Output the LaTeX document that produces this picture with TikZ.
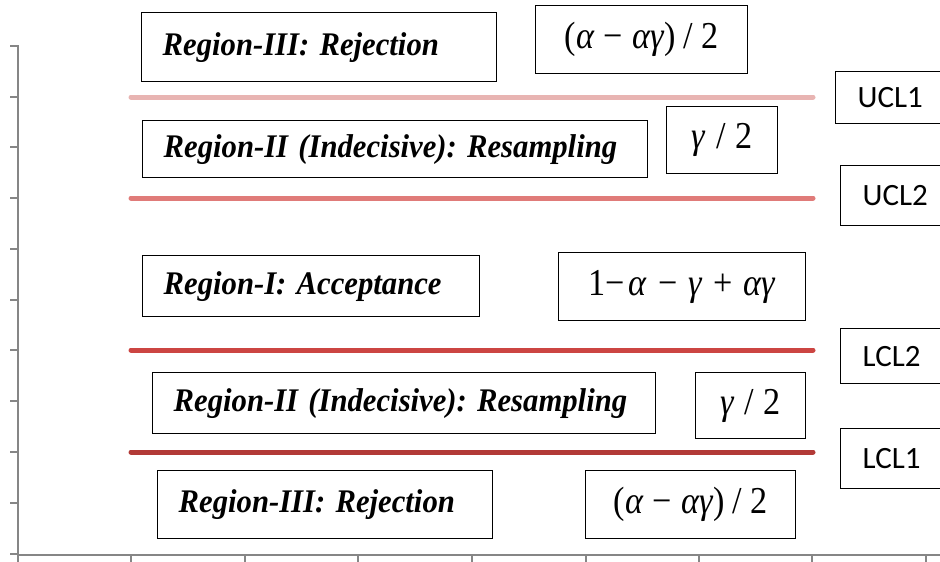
\documentclass[tikz,border=0pt]{standalone}
\usepackage{fontspec}
\usepackage{graphicx}
\setmainfont{Liberation Serif}
\newfontfamily\calib{Carlito}
\definecolor{axisgray}{HTML}{868686}
\definecolor{cucla}{HTML}{E8B4B2}
\definecolor{cuclb}{HTML}{E07B79}
\definecolor{clclb}{HTML}{CC4542}
\definecolor{clcla}{HTML}{B23A37}
\frenchspacing
\newcommand{\rtxt}[1]{\scalebox{0.93}[1]{#1}}
\newcommand{\mtxt}[1]{\scalebox{0.9}[1]{#1}}
\begin{document}
\begin{tikzpicture}[x=1pt,y=-1pt,
  axisline/.style={draw=axisgray,line width=2pt},
  limitline/.style={line width=5pt,line cap=round},
  box/.style={draw=black,line width=1.4pt,rectangle,anchor=north west,inner sep=0pt},
  regionbox/.style={box,align=left,font=\fontsize{33}{36}\selectfont\bfseries\itshape},
  mathbox/.style={box,font=\fontsize{38}{42}\selectfont},
  limbox/.style={box,align=left,inner xsep=22pt,font=\fontsize{31}{34}\selectfont\calib}
]
\useasboundingbox (0,0) rectangle (940,562);
\fill[white] (0,0) rectangle (940,562);

% axes
\draw[axisline] (18,45) -- (18,555) -- (940,555);
\foreach \yy in {46,97,147,198,249,300,350,401,452,503,554}
  \draw[axisline] (10,\yy) -- (18,\yy);
\foreach \xx in {18,131,245,358,472,586,699,812,926}
  \draw[axisline] (\xx,555) -- (\xx,562);

% limit lines
\draw[limitline,cucla] (131,97) -- (813,97);
\draw[limitline,cuclb] (131,198) -- (813,198);
\draw[limitline,clclb] (131,350) -- (813,350);
\draw[limitline,clcla] (131,452) -- (813,452);

% region boxes
\node[regionbox,minimum width=355pt,minimum height=69pt,text width=313pt] (r3top) at (141,12) {\rtxt{Region-III: Rejection}};
\node[regionbox,minimum width=505pt,minimum height=57pt,text width=463pt] (r2top) at (142,120) {\rtxt{Region-II (Indecisive): Resampling}};
\node[regionbox,minimum width=337pt,minimum height=61pt,text width=295pt] (r1) at (142,255) {\rtxt{Region-I: Acceptance}};
\node[regionbox,minimum width=503pt,minimum height=61pt,text width=461pt] (r2bot) at (152,372) {\rtxt{Region-II (Indecisive): Resampling}};
\node[regionbox,minimum width=335pt,minimum height=68pt,text width=293pt] (r3bot) at (157,470) {\rtxt{Region-III: Rejection}};

% math boxes
\node[mathbox,minimum width=212pt,minimum height=68pt] (mtop) at (535,5) {\mtxt{(\textit{α}\hspace{10pt}−\hspace{10pt}\textit{αγ})\hspace{9pt}/\hspace{9pt}2}};
\node[mathbox,minimum width=111pt,minimum height=67pt] (gtop) at (666,106) {\mtxt{\textit{γ}\hspace{11pt}/\hspace{11pt}2}};
\node[mathbox,minimum width=247pt,minimum height=68pt] (macc) at (558,252) {\mtxt{1−\hspace{4pt}\textit{α}\hspace{12pt}−\hspace{12pt}\textit{γ}\hspace{12pt}+\hspace{12pt}\textit{αγ}}};
\node[mathbox,minimum width=110pt,minimum height=66pt] (gbot) at (695,372) {\mtxt{\textit{γ}\hspace{11pt}/\hspace{11pt}2}};
\node[mathbox,minimum width=210pt,minimum height=68pt] (mbot) at (585,470) {\mtxt{(\textit{α}\hspace{10pt}−\hspace{10pt}\textit{αγ})\hspace{9pt}/\hspace{9pt}2}};

% limit labels
\node[limbox,minimum width=110pt,minimum height=52pt,text width=66pt] (ucl1) at (835,71) {UCL1};
\node[limbox,minimum width=105pt,minimum height=60pt,text width=61pt] (ucl2) at (840,165) {UCL2};
\node[limbox,minimum width=105pt,minimum height=55pt,text width=61pt] (lcl2) at (840,328) {LCL2};
\node[limbox,minimum width=105pt,minimum height=60pt,text width=61pt] (lcl1) at (840,428) {LCL1};
\end{tikzpicture}
\end{document}
